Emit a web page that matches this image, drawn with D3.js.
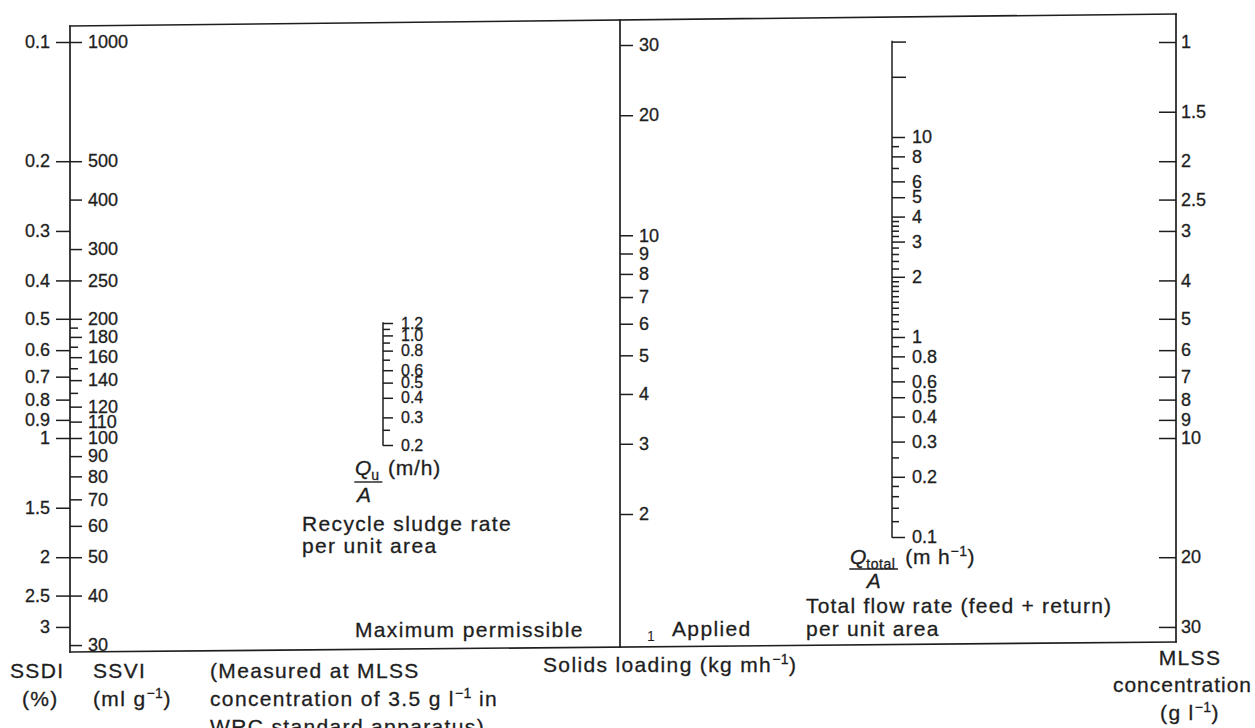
<!DOCTYPE html>
<html><head><meta charset="utf-8">
<script src="https://cdn.jsdelivr.net/npm/d3@7"></script>
<style>
body{margin:0;background:#fff}
svg{display:block;background:#fff}
</style></head><body>
<svg id="c" width="1255" height="728"></svg>
<script>
// ---------- data (tick values of each nomogram scale) ----------
const ssdiTicks   = [0.1,0.2,0.3,0.4,0.5,0.6,0.7,0.8,0.9,1,1.5,2,2.5,3];
const ssviTicks   = [1000,500,400,300,250,200,180,160,140,120,110,100,90,80,70,60,50,40,30];
const ssviMinor   = [190,170,150,130];
const quTicks     = [1.2,1.0,0.8,0.6,0.5,0.4,0.3,0.2];
const quMinor     = [1.1,0.9,0.7,0.25];
const solidsTicks = [30,20,10,9,8,7,6,5,4,3,2];
const solidsEnd   = [1];
const qtLabeled   = [10,8,6,5,4,3,2,1,0.8,0.6,0.5,0.4,0.3,0.2,0.1];
const qtUnlabeled = [30,20];
const qtMinor     = [9,7,3.8,3.6,3.4,3.2,2.8,2.6,2.4,2.2,1.9,1.8,1.7,1.6,1.5,1.4,1.3,1.2,1.1,0.9,0.7,0.25,0.18,0.16,0.14,0.12];
const mlssTicks   = [1,1.5,2,2.5,3,4,5,6,7,8,9,10,20,30];

// ---------- layout ----------
const FONT = '"Liberation Sans", Arial, Helvetica, sans-serif';
const ink = "#1e1e1e";
const svg = d3.select("#c");
const xL = 70, xM = 620, xQU = 383, xQT = 892, xR = 1176;
const top0 = [26, 14], bot0 = [652, 642];       // frame top/bottom y at left & right edge
const yAtTop = x => top0[0] + (top0[1]-top0[0])*(x-xL)/(xR-xL);
const yAtBot = x => bot0[0] + (bot0[1]-bot0[0])*(x-xL)/(xR-xL);

// ---------- scales ----------
const yVI = d3.scaleLog().domain([1000,100]).range([42,438]);   // SSVI
const yDI = d3.scaleLog().domain([0.1,1]).range([42,438]);      // SSDI
const yML = d3.scaleLog().domain([1,10]).range([42,438]);       // MLSS
const ySL = d3.scaleLog().domain([30,2]).range([45,514]);       // solids loading
const yQU = d3.scaleLog().domain([1.2,0.2]).range([323,445]);   // Qu/A
const yQT = d3.scaleLog().domain([10,0.1]).range([137,537]);    // Qtotal/A

// ---------- frame ----------
const line = (x1,y1,x2,y2,w=1.7) => svg.append("line").attr("x1",x1).attr("y1",y1).attr("x2",x2).attr("y2",y2)
  .attr("stroke",ink).attr("stroke-width",w).attr("stroke-linecap","square");
line(xL, yAtTop(xL), xR, yAtTop(xR));
line(xL, yAtBot(xL), xR, yAtBot(xR));
line(xL, yAtTop(xL), xL, yAtBot(xL));
line(xR, yAtTop(xR), xR, yAtBot(xR));
line(xM, yAtTop(xM), xM, yAtBot(xM));
line(xQU, yQU(quTicks[0]), xQU, yQU(quTicks[quTicks.length-1]), 1.5);
line(xQT, yQT(qtUnlabeled[0]), xQT, yQT(qtLabeled[qtLabeled.length-1]), 1.5);

function axis(gen, x, fs){
  const g = svg.append("g").attr("transform",`translate(${x},0)`).call(gen);
  g.select(".domain").remove();
  g.attr("font-size", fs).attr("font-family", FONT);
  g.selectAll(".tick line").attr("stroke", ink).attr("stroke-width", 1.5);
  g.selectAll(".tick text").attr("fill", ink).attr("stroke", ink).attr("stroke-width", 0.3);
  return g;
}
const fmt = d => String(d);

// SSDI (left of left edge)
axis(d3.axisLeft(yDI).tickValues(ssdiTicks).tickSize(14).tickPadding(6).tickFormat(fmt), xL, 18);
// SSVI (right of left edge)
axis(d3.axisRight(yVI).tickValues(ssviTicks).tickSize(12).tickPadding(6).tickFormat(fmt), xL, 18);
axis(d3.axisRight(yVI).tickValues(ssviMinor).tickSize(8).tickFormat(""), xL, 18);
// Qu / A
axis(d3.axisRight(yQU).tickValues(quTicks).tickSize(10).tickPadding(8).tickFormat(d3.format(".1f")), xQU, 16);
axis(d3.axisRight(yQU).tickValues(quMinor).tickSize(7).tickFormat(""), xQU, 16);
// Solids loading
axis(d3.axisRight(ySL).tickValues(solidsTicks).tickSize(13).tickPadding(6).tickFormat(fmt), xM, 18);
svg.selectAll("text.send").data(solidsEnd).join("text").attr("class","send")
  .attr("x", xM+27).attr("y", d => ySL(d)+7).attr("font-size",14).attr("font-family",FONT).attr("fill",ink).text(fmt);
// Qtotal / A
axis(d3.axisRight(yQT).tickValues(qtLabeled).tickSize(13).tickPadding(7).tickFormat(fmt), xQT, 18);
axis(d3.axisRight(yQT).tickValues(qtUnlabeled).tickSize(14).tickFormat(""), xQT, 18);
axis(d3.axisRight(yQT).tickValues(qtMinor).tickSize(7).tickFormat(""), xQT, 18);
// MLSS: ticks to the left, labels to the right
axis(d3.axisLeft(yML).tickValues(mlssTicks).tickSize(17).tickFormat(""), xR, 18);
axis(d3.axisRight(yML).tickValues(mlssTicks).tickSize(0).tickPadding(5).tickFormat(fmt), xR, 18);

// ---------- text labels ----------
function txt(x, y, parts, opt={}){
  const t = svg.append("text").attr("x",x).attr("y",y).attr("font-family",FONT)
    .attr("font-size", opt.fs||21).attr("fill",ink).attr("stroke",ink).attr("stroke-width",0.3)
    .attr("letter-spacing", opt.ls!=null?opt.ls:1.35)
    .attr("text-anchor", opt.anchor||"start");
  let shift = 0;
  parts.forEach(p => {
    if (typeof p === "string") p = {t:p};
    const s = t.append("tspan").text(p.t);
    let want = p.sup ? -8 : p.sub ? 5 : 0;
    if (want !== shift) { s.attr("dy", want - shift); shift = want; }
    if (p.sup || p.sub) s.attr("font-size", 14).attr("letter-spacing",0.5);
    if (p.it) s.attr("font-style","italic");
  });
  return t;
}
txt(10, 678, ["SSDI"]);
txt(22, 706, ["(%)"]);
txt(93, 678, ["SSVI"]);
txt(93, 706, ["(ml g",{t:"−1",sup:true},")"]);
txt(210, 678, ["(Measured at MLSS"]);
txt(210, 706, ["concentration of 3.5 g l",{t:"−1",sup:true}," in"]);
txt(210, 734, ["WRC standard apparatus)"]);
txt(355, 637, ["Maximum permissible"]);
txt(672, 636, ["Applied"]);
txt(543, 672, ["Solids loading (kg mh",{t:"−1",sup:true},")"]);
txt(806, 613, ["Total flow rate (feed + return)"], {ls:1.2});
txt(806, 636, ["per unit area"], {ls:1.2});
txt(302, 531, ["Recycle sludge rate"]);
txt(302, 553, ["per unit area"]);
txt(1190, 665, ["MLSS"], {anchor:"middle"});
txt(1252, 692, ["concentration"], {anchor:"end", ls:1.0});
txt(1190, 720, ["(g l",{t:"−1",sup:true},")"], {anchor:"middle"});

// fraction Qu/A
const qu = txt(355, 475, [{t:"Q",it:true},{t:"u",sub:true}], {ls:0});
let w = qu.node().getComputedTextLength();
line(355, 482, 355+w+2, 482, 1.4);
txt(357, 502, [{t:"A",it:true}], {ls:0});
txt(388, 475, ["(m/h)"], {ls:0.8});

// fraction Qtotal/A
const qt = txt(850, 564, [{t:"Q",it:true},{t:"total",sub:true}], {ls:0});
w = qt.node().getComputedTextLength();
line(850, 569, 850+w+2, 569, 1.4);
txt(850+w/2-6, 588, [{t:"A",it:true}], {ls:0});
txt(850+w+10, 564, ["(m h",{t:"−1",sup:true},")"], {ls:0.8});
</script>
</body></html>
